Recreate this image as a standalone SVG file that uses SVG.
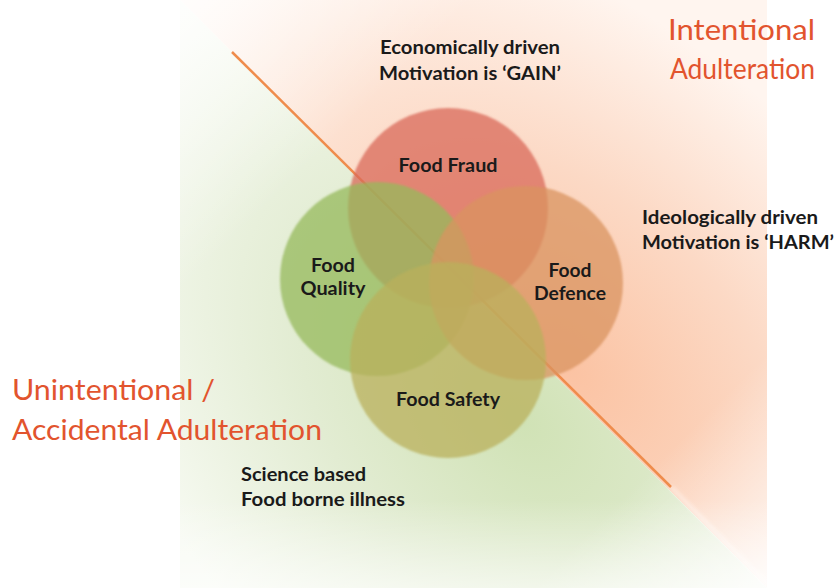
<svg xmlns="http://www.w3.org/2000/svg" width="837" height="588" viewBox="0 0 837 588">
<style>
.lbl{font-family:Lato,"Liberation Sans",Arial,sans-serif;font-weight:bold;font-size:19px;fill:#1a1a1a;}
.ttl{font-family:Lato,"Open Sans","Liberation Sans",sans-serif;font-size:28px;fill:#e2542e;}
.c{stroke:none;fill-opacity:0.75;}
</style>
<defs>
<radialGradient id="gOr" gradientUnits="userSpaceOnUse" cx="0" cy="0" r="1" gradientTransform="translate(570,370) rotate(45) scale(520,330)">
<stop offset="0" stop-color="#fbc3a3"/>
<stop offset="0.5" stop-color="#fcd9c5"/>
<stop offset="1" stop-color="#fff5ef"/>
</radialGradient>
<radialGradient id="gGr" gradientUnits="userSpaceOnUse" cx="0" cy="0" r="1" gradientTransform="translate(520,420) rotate(45) scale(520,340)">
<stop offset="0" stop-color="#d0e2b5"/>
<stop offset="0.5" stop-color="#e2ecd2"/>
<stop offset="1" stop-color="#f7faf2"/>
</radialGradient>
<linearGradient id="gDiag" gradientUnits="userSpaceOnUse" x1="180" y1="0" x2="767" y2="588">
<stop offset="0" stop-color="#ffffff" stop-opacity="0.8"/>
<stop offset="0.25" stop-color="#ffffff" stop-opacity="0"/>
<stop offset="0.8" stop-color="#ffffff" stop-opacity="0"/>
<stop offset="1" stop-color="#ffffff" stop-opacity="0.8"/>
</linearGradient>
<linearGradient id="gBot" gradientUnits="userSpaceOnUse" x1="0" y1="500" x2="0" y2="588">
<stop offset="0" stop-color="#ffffff" stop-opacity="0"/>
<stop offset="1" stop-color="#ffffff" stop-opacity="0.6"/>
</linearGradient>
<filter id="soft" x="-10%" y="-10%" width="120%" height="120%"><feGaussianBlur stdDeviation="0.8"/></filter>
<filter id="blur3" x="-20%" y="-20%" width="140%" height="140%"><feGaussianBlur stdDeviation="2"/></filter>
</defs>
<rect x="0" y="0" width="837" height="588" fill="#ffffff"/>
<g id="background">
<polygon points="180,0 767,0 767,588" fill="url(#gOr)"/>
<polygon points="180,0 767,588 180,588" fill="url(#gGr)"/>
<polygon points="180,0 767,0 767,588 180,588" fill="url(#gDiag)"/>
<polygon points="180,500 767,500 767,588 180,588" fill="url(#gBot)"/>
<line x1="671" y1="487" x2="767" y2="584" stroke="#ffffff" stroke-width="3" opacity="0.6" filter="url(#blur3)"/>
</g>
<g id="connectors">
<line x1="232" y1="52" x2="671" y2="487" stroke="#ef8c4c" stroke-width="2.5"/>
</g>
<g id="food-fraud">
<circle class="c" cx="448" cy="208" r="100" fill="#d9685a" filter="url(#soft)"/>
<text class="lbl" x="448" y="172" text-anchor="middle" textLength="99" lengthAdjust="spacingAndGlyphs">Food Fraud</text>
</g>
<g id="food-quality">
<circle class="c" cx="377" cy="279" r="97" fill="#95ba5b" filter="url(#soft)"/>
<text class="lbl" x="333" y="272" text-anchor="middle" textLength="44" lengthAdjust="spacingAndGlyphs">Food</text>
<text class="lbl" x="333" y="295" text-anchor="middle" textLength="65" lengthAdjust="spacingAndGlyphs">Quality</text>
</g>
<g id="food-defence">
<circle class="c" cx="526" cy="283" r="97" fill="#d9935f" filter="url(#soft)"/>
<text class="lbl" x="570" y="277" text-anchor="middle" textLength="43" lengthAdjust="spacingAndGlyphs">Food</text>
<text class="lbl" x="570" y="300" text-anchor="middle" textLength="72" lengthAdjust="spacingAndGlyphs">Defence</text>
</g>
<g id="food-safety">
<circle class="c" cx="448" cy="360" r="98" fill="#b9b05b" filter="url(#soft)"/>
<text class="lbl" x="448" y="406" text-anchor="middle" textLength="104" lengthAdjust="spacingAndGlyphs">Food Safety</text>
</g>
<g id="intentional">
<text class="ttl" x="668" y="40" textLength="147" lengthAdjust="spacingAndGlyphs">Intentional</text>
<text class="ttl" x="670" y="79" textLength="145" lengthAdjust="spacingAndGlyphs">Adulteration</text>
</g>
<g id="unintentional">
<text class="ttl" x="12" y="400" textLength="203" lengthAdjust="spacingAndGlyphs">Unintentional /</text>
<text class="ttl" x="12" y="440" textLength="310" lengthAdjust="spacingAndGlyphs">Accidental Adulteration</text>
</g>
<g id="economic">
<text class="lbl" x="380" y="54" textLength="180" lengthAdjust="spacingAndGlyphs">Economically driven</text>
<text class="lbl" x="379" y="80" textLength="182" lengthAdjust="spacingAndGlyphs">Motivation is ‘GAIN’</text>
</g>
<g id="ideological">
<text class="lbl" x="642" y="224" textLength="176" lengthAdjust="spacingAndGlyphs">Ideologically driven</text>
<text class="lbl" x="642" y="249" textLength="192" lengthAdjust="spacingAndGlyphs">Motivation is ‘HARM’</text>
</g>
<g id="science">
<text class="lbl" x="241" y="481" textLength="125" lengthAdjust="spacingAndGlyphs">Science based</text>
<text class="lbl" x="241" y="506" textLength="164" lengthAdjust="spacingAndGlyphs">Food borne illness</text>
</g>
</svg>
